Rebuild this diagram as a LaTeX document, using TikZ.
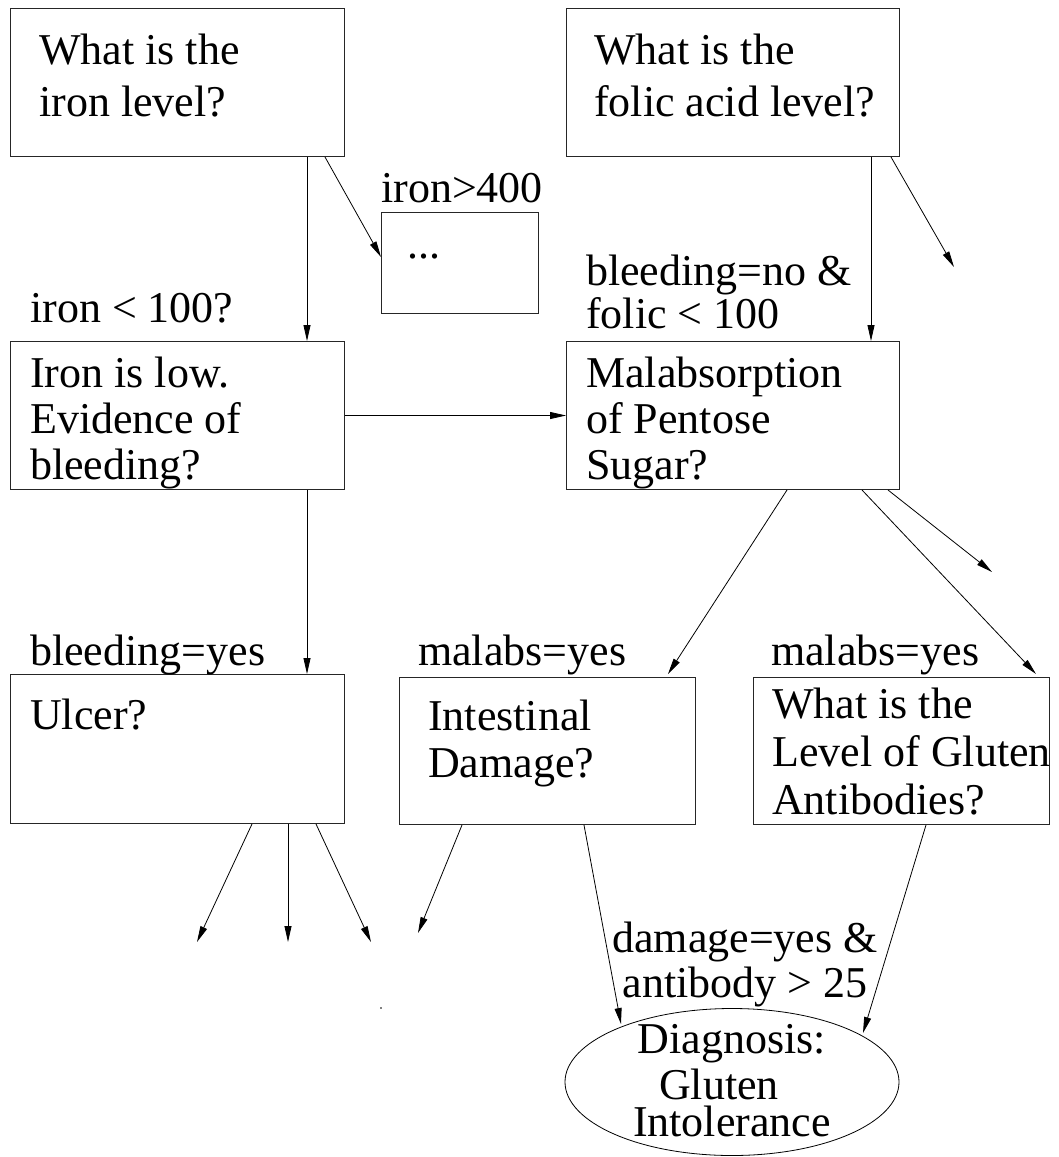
\documentclass[tikz,border=0pt]{standalone}
\usepackage{fontspec}
\setmainfont{Liberation Serif}
\usetikzlibrary{arrows.meta,shapes.geometric}
% multi-line text whose reference point is the first baseline
\newcommand\stackl[1]{\begin{tabular}[t]{@{}l@{}}#1\end{tabular}}
\newcommand\stackc[1]{\begin{tabular}[t]{@{}c@{}}#1\end{tabular}}

\begin{document}
\begin{tikzpicture}[x=1pt,y=-1pt,
  box/.style={draw=black!85, line width=1pt, rectangle, anchor=north west, inner sep=0pt},
  txt/.style={anchor=base west, inner sep=0pt, font=\fontsize{44}{#1}\selectfont},
  txt/.default=47,
  ctxt/.style={anchor=base, inner sep=0pt, font=\fontsize{44}{#1}\selectfont},
  ctxt/.default=45,
  arr/.style={-{Triangle[length=16pt,width=7pt]}, line width=0.8pt},
]
\useasboundingbox (0,0) rectangle (1058,1157);

% question boxes
\node[box, minimum width=334pt, minimum height=148pt] (iron)   at (10,8)    {};
\node[box, minimum width=333pt, minimum height=148pt] (folic)  at (566,8)   {};
\node[box, minimum width=157pt, minimum height=101pt] (dots)   at (381,212) {};
\node[box, minimum width=334pt, minimum height=148pt] (low)    at (10,341)  {};
\node[box, minimum width=333pt, minimum height=148pt] (malab)  at (566,341) {};
\node[box, minimum width=334pt, minimum height=149pt] (ulcer)  at (10,674)  {};
\node[box, minimum width=296pt, minimum height=147pt] (intest) at (399,677) {};
\node[box, minimum width=296pt, minimum height=147pt] (gluten) at (753,677) {};
\node[ellipse, draw, line width=0.8pt, minimum width=334pt, minimum height=147pt,
      inner sep=0pt] (ell) at (732,1082) {};

% texts inside the boxes
\node[txt=52] (ironq)   at (39,64)   {\stackl{What is the\\iron level?}};
\node[txt=52] (folicq)  at (594,64)  {\stackl{What is the\\folic acid level?}};
\node[txt]    (dotsq)   at (407,258) {...};
\node[txt=46] (lowq)    at (30,387)  {\stackl{Iron is low.\\Evidence of\\bleeding?}};
\node[txt=46] (malabq)  at (586,387) {\stackl{Malabsorption\\of Pentose\\Sugar?}};
\node[txt]    (ulcerq)  at (30,729)  {Ulcer?};
\node[txt=47] (intestq) at (428,730) {\stackl{Intestinal\\Damage?}};
\node[txt=48] (glutenq) at (772,718) {\stackl{What is the\\Level of Gluten\\Antibodies?}};
\node[ctxt=46] (diag)   at (732,1053) {\stackc{Diagnosis:\\Gluten\hspace*{26pt}\\[-9pt]Intolerance}};

% branch conditions
\node[txt]    (l400)    at (381,202) {iron>400};
\node[txt]    (l100)    at (30,322)  {iron < 100?};
\node[txt=43] (lfolic)  at (586,285) {\stackl{bleeding=no \&\\folic < 100}};
\node[txt]    (lbleed)  at (30,665)  {bleeding=yes};
\node[txt]    (lmal1)   at (418,665) {malabs=yes};
\node[txt]    (lmal2)   at (771,665) {malabs=yes};
\node[ctxt=45] (ldamage) at (745,952) {\stackc{damage=yes \&\\antibody > 25}};

% free ends of the open branches
\coordinate (fo) at (954,267);
\coordinate (mo) at (992,572);
\coordinate (u1) at (197,942);
\coordinate (u2) at (288,942);
\coordinate (u3) at (371,942);
\coordinate (i1) at (418,933);

% connectors
\draw[arr] ([xshift=297pt]iron.south west) -- ([xshift=297pt]low.north west);
\draw[arr] ([xshift=315pt]iron.south west) -- ([yshift=-45pt]dots.north west);
\draw[arr] ([xshift=305pt]folic.south west) -- ([xshift=305pt]malab.north west);
\draw[arr] ([xshift=325pt]folic.south west) -- (fo);
\draw[arr] (low.east) -- (malab.west);
\draw[arr] ([xshift=297pt]low.south west) -- ([xshift=297pt]ulcer.north west);
\draw[arr] ([xshift=221pt]malab.south west) -- ([shift={(269pt,3pt)}]intest.north west);
\draw[arr] ([xshift=296pt]malab.south west) -- ([shift={(283pt,3pt)}]gluten.north west);
\draw[arr] ([xshift=322pt]malab.south west) -- (mo);
\draw[arr] ([xshift=242pt]ulcer.south west) -- (u1);
\draw[arr] ([xshift=278pt]ulcer.south west) -- (u2);
\draw[arr] ([xshift=306pt]ulcer.south west) -- (u3);
\draw[arr] ([xshift=63pt]intest.south west) -- (i1);
\draw[arr] ([xshift=185pt]intest.south west) -- ([shift={(-111pt,58pt)}]ell.center);
\draw[arr] ([xshift=173pt]gluten.south west) -- ([shift={(131pt,49pt)}]ell.center);

% stray speck
\fill (381,1008) circle (0.8);
\end{tikzpicture}
\end{document}
